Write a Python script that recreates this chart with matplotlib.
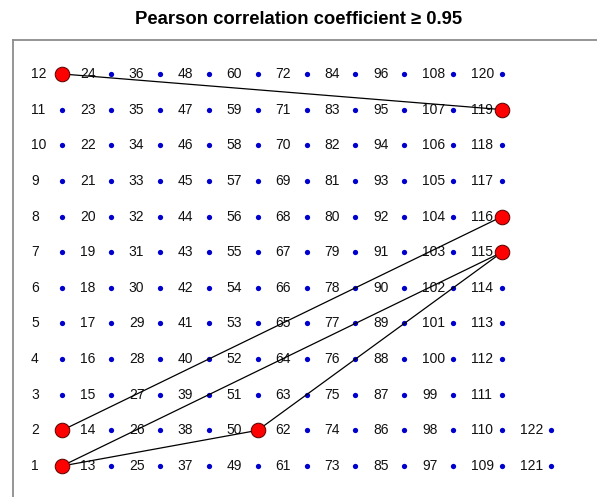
import matplotlib
matplotlib.use("Agg")
import matplotlib.pyplot as plt

plt.rcParams['font.family'] = ['Liberation Sans', 'DejaVu Sans']

n_points = 122
rows_per_col = 12
highlighted = [1, 2, 12, 50, 115, 116, 119]
edges = [(12, 119), (2, 116), (1, 115), (1, 50), (50, 115)]
title = "Pearson correlation coefficient \u2265 0.95"


def pos(n):
    return (n - 1) // rows_per_col, (n - 1) % rows_per_col + 1


fig = plt.figure(figsize=(5.97, 4.97), dpi=100)
ax = fig.add_axes([13 / 597, 0, 1 - 13 / 597, 1 - 40 / 497])
ax.set_xlim(-1.002, 10.94)
ax.set_ylim(0.130, 12.953)
for s in ['right', 'bottom']:
    ax.spines[s].set_visible(False)
for s in ['left', 'top']:
    ax.spines[s].set_color('#8c8c8c')
    ax.spines[s].set_linewidth(1.3)
ax.set_xticks([])
ax.set_yticks([])

ids = list(range(1, n_points + 1))
xs = [pos(n)[0] for n in ids]
ys = [pos(n)[1] for n in ids]

for n, x, y in zip(ids, xs, ys):
    ax.annotate(str(n), (x, y), xytext=(-31, 0), textcoords='offset pixels',
                ha='left', va='center', fontsize=10, color='#111111', zorder=1)

ax.plot(xs, ys, 'o', color='#0000cc', markersize=3.8, markeredgewidth=0, zorder=2)

for a, b in edges:
    xa, ya = pos(a)
    xb, yb = pos(b)
    ax.plot([xa, xb], [ya, yb], color='black', lw=0.9, zorder=3)

hx = [pos(n)[0] for n in highlighted]
hy = [pos(n)[1] for n in highlighted]
ax.plot(hx, hy, 'o', color='#ff0000', markersize=10.5, markeredgecolor='#550000',
        markeredgewidth=0.7, zorder=4)

fig.text(0.5, 1 - 19 / 497, title, ha='center', va='center', fontsize=13.3,
         fontweight='bold')

fig.savefig('out.png', dpi=100)
